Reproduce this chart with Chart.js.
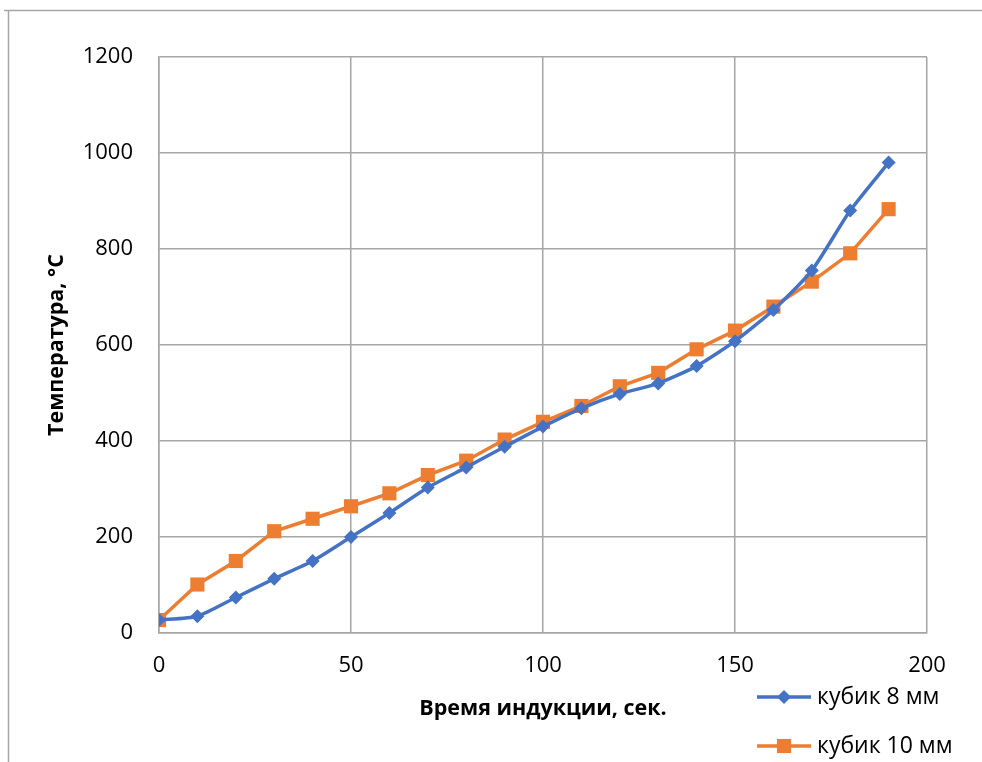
<!DOCTYPE html>
<html>
<head>
<meta charset="utf-8">
<script src="https://cdn.jsdelivr.net/npm/chart.js@4/dist/chart.umd.min.js"></script>
<style>
  html, body { margin: 0; padding: 0; background: #ffffff; }
  #wrap { position: relative; width: 982px; height: 762px; }
</style>
</head>
<body>
<div id="wrap"><canvas id="c" width="982" height="762"></canvas></div>
<script>
// Induction time, seconds
const times = [0, 10, 20, 30, 40, 50, 60, 70, 80, 90, 100, 110, 120, 130, 140, 150, 160, 170, 180, 190];
// Temperature, °C
const cube8 = [27, 35, 74, 113, 150, 200, 250, 303, 345, 388, 430, 468, 498, 520, 556, 608, 673, 755, 880, 980];
const cube10 = [27, 101, 150, 212, 238, 264, 291, 329, 359, 403, 440, 473, 514, 542, 591, 630, 680, 732, 791, 883];
const seriesNames = ['кубик 8 мм', 'кубик 10 мм'];
const xTitle = 'Время индукции, сек.';
const yTitle = 'Температура, °C';

const FONT = '"Open Sans", "Noto Sans", sans-serif';
const GRID = '#a6a6a6';

const toXY = (arr) => arr.map((v, i) => ({ x: times[i], y: v }));

// Outer frame plus a vertical legend at the lower right
const framePlugin = {
  id: 'frameAndLegend',
  afterDraw(chart) {
    const ctx = chart.ctx;
    ctx.save();
    ctx.strokeStyle = '#a6a6a6';
    ctx.lineWidth = 1.5;
    ctx.beginPath();
    ctx.moveTo(4, 10.5);
    ctx.lineTo(982, 10.5);
    ctx.moveTo(8.5, 10.5);
    ctx.lineTo(8.5, 762);
    ctx.stroke();

    const rows = [697, 746];
    chart.data.datasets.forEach((ds, i) => {
      const y = rows[i];
      ctx.strokeStyle = ds.borderColor;
      ctx.lineWidth = 3.5;
      ctx.beginPath();
      ctx.moveTo(757, y);
      ctx.lineTo(811, y);
      ctx.stroke();
      ctx.fillStyle = ds.backgroundColor;
      Chart.helpers.drawPoint(ctx, {
        pointStyle: ds.pointStyle,
        radius: ds.pointRadius,
        borderWidth: 0,
        rotation: 0
      }, 784, y);
      ctx.fillStyle = '#000000';
      ctx.font = '23px ' + FONT;
      ctx.textBaseline = 'middle';
      ctx.textAlign = 'left';
      ctx.fillText(ds.label, 817, y);
    });
    ctx.restore();
  }
};

new Chart(document.getElementById('c'), {
  type: 'line',
  data: {
    datasets: [
      {
        label: seriesNames[0],
        data: toXY(cube8),
        borderColor: '#4472c4',
        backgroundColor: '#4472c4',
        borderWidth: 3.5,
        pointStyle: 'rectRot',
        pointRadius: 7,
        pointBorderWidth: 0,
        tension: 0.2
      },
      {
        label: seriesNames[1],
        data: toXY(cube10),
        borderColor: '#ed7d31',
        backgroundColor: '#ed7d31',
        borderWidth: 3.5,
        pointStyle: 'rect',
        pointRadius: 10,
        pointBorderWidth: 0,
        tension: 0
      }
    ]
  },
  options: {
    responsive: false,
    animation: false,
    layout: { padding: { top: 57, right: 55, bottom: 0, left: 0 } },
    plugins: {
      legend: { display: false },
      tooltip: { enabled: false }
    },
    scales: {
      x: {
        type: 'linear',
        min: 0,
        max: 200,
        afterFit(scale) { scale.height = 129; },
        ticks: {
          stepSize: 50,
          padding: 20,
          color: '#000000',
          font: { family: FONT, size: 22 },
          callback: (v) => String(v)
        },
        grid: { color: GRID, lineWidth: 1.5, drawTicks: false },
        border: { color: GRID, width: 1.5 },
        title: {
          display: true,
          text: xTitle,
          color: '#000000',
          font: { family: FONT, size: 21.5, weight: 'bold' },
          padding: { top: 0, bottom: 40 }
        }
      },
      y: {
        min: 0,
        max: 1200,
        afterFit(scale) { scale.width = 159; },
        ticks: {
          stepSize: 200,
          padding: 26,
          color: '#000000',
          font: { family: FONT, size: 22 },
          callback: (v) => String(v)
        },
        grid: { color: GRID, lineWidth: 1.5, drawTicks: false },
        border: { color: GRID, width: 1.5 },
        title: {
          display: true,
          text: yTitle,
          color: '#000000',
          font: { family: FONT, size: 21.5, weight: 'bold' },
          padding: { top: 44, bottom: 0 }
        }
      }
    }
  },
  plugins: [framePlugin]
});
</script>
</body>
</html>
